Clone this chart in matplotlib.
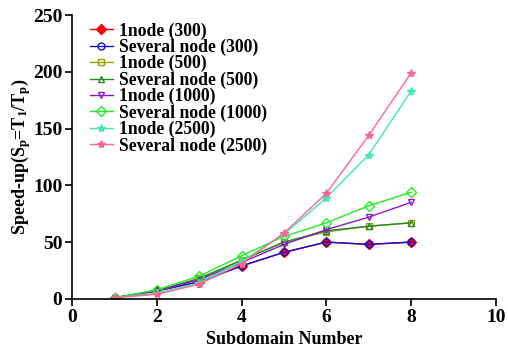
import matplotlib
matplotlib.use('Agg')
import matplotlib.pyplot as plt

plt.rcParams['font.family'] = ['Liberation Serif', 'DejaVu Serif']
plt.rcParams['font.weight'] = 'bold'
plt.rcParams['mathtext.fontset'] = 'custom'
plt.rcParams['mathtext.rm'] = 'Liberation Serif:bold'
plt.rcParams['mathtext.it'] = 'Liberation Serif:bold'

subdomains = [1, 2, 3, 4, 5, 6, 7, 8]

one_300 = [1, 7, 15, 29, 41, 50, 48, 50]
sev_300 = [1, 7, 15, 29, 41, 50, 48, 50]
one_500 = [1, 7, 18, 34, 50, 59, 64, 67]
sev_500 = [1, 7, 18, 34, 50, 60, 64, 67]
one_1000 = [1, 7, 17, 32, 48, 61, 72, 85]
sev_1000 = [1, 8, 20, 38, 55, 67, 82, 94]
one_2500 = [1, 5, 14, 33, 57, 89, 127, 183]
sev_2500 = [1, 4, 13, 31, 58, 93, 144, 199]

labels = ['1node (300)', 'Several node (300)', '1node (500)', 'Several node (500)',
          '1node (1000)', 'Several node (1000)', '1node (2500)', 'Several node (2500)']
series = [one_300, sev_300, one_500, sev_500, one_1000, sev_1000, one_2500, sev_2500]
colors = ['#ff0000', '#1010d0', '#9a9a10', '#2a8a2a', '#8a1ac8', '#22ee22', '#40e8b8', '#f86890']
markers = ['D', 'o', 's', '^', 'v', 'D', '*', '*']
filled = [True, False, False, False, False, False, True, True]

fig = plt.figure(figsize=(5.08, 3.52), dpi=100)
ax = fig.add_axes([0.142, 0.151, 0.834, 0.806])

for y, lab, c, m, f in zip(series, labels, colors, markers, filled):
    ax.plot(subdomains, y, color=c, marker=m, markersize=5 if m != '*' else 6,
            markerfacecolor=c if f else 'none', markeredgecolor=c,
            linewidth=1, markeredgewidth=1, label=lab)

ax.set_xlim(0, 10)
ax.set_ylim(0, 250)
ax.set_xticks(range(0, 11, 2))
ax.set_yticks(range(0, 251, 50))
ax.spines['top'].set_visible(False)
ax.spines['right'].set_visible(False)
ax.spines['left'].set_linewidth(1.2)
ax.spines['bottom'].set_linewidth(1.2)
ax.tick_params(direction='out', length=5, width=1.2, labelsize=14, pad=2)
for t in ax.get_xticklabels() + ax.get_yticklabels():
    t.set_fontweight('bold')

ax.set_xlabel('Subdomain Number', fontsize=13, fontweight='bold', labelpad=4)
ax.set_ylabel(r'Speed-up(S$_\mathrm{p}$=T$_\mathrm{1}$/T$_\mathrm{p}$)', fontsize=13,
              fontweight='bold', labelpad=0)

ax.legend(loc='upper left', bbox_to_anchor=(0.025, 1.0), frameon=False,
          prop={'size': 12.7, 'weight': 'bold'}, handlelength=1.3,
          labelspacing=-0.05, borderaxespad=0.0, handletextpad=0.35)

fig.savefig('out.png', dpi=100)
